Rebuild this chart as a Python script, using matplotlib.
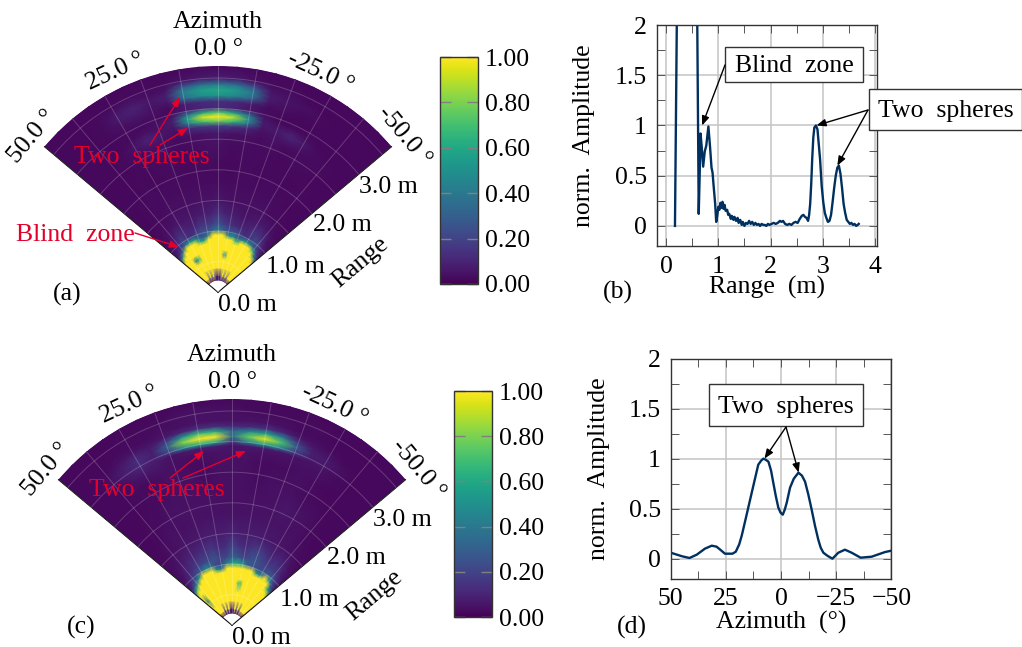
import numpy as np
import matplotlib
matplotlib.use('Agg')
import matplotlib.pyplot as plt
from matplotlib.patches import Rectangle

plt.rcParams['font.family'] = ['Liberation Serif', 'DejaVu Serif']
plt.rcParams['font.size'] = 18.5

W, H = 1022, 647
RED = '#e4002b'
NAVY = '#00305f'

# heat maps, percent of full scale, columns go left to right in the picture
azimuths = [50, 45, 40, 35, 30, 25, 20, 15, 10, 5, 0, -5, -10, -15, -20, -25, -30, -35, -40, -45, -50]

ranges_a = [0.20, 0.27, 0.40, 0.55, 0.62, 0.70, 0.76, 0.82, 0.88, 0.94, 1.02, 1.12, 1.30, 1.50, 1.80, 2.10,
            2.40, 2.60, 2.72, 2.80, 2.87, 2.94, 3.02, 3.12, 3.22, 3.31, 3.40, 3.50, 3.70]
heat_a = [
    [5, 5, 5, 5, 5, 5, 5, 5, 5, 5, 5, 5, 5, 5, 5, 5, 5, 5, 5, 5, 5],
    [300, 300, 300, 300, 20, 300, 20, 300, 20, 8, 8, 8, 20, 300, 20, 300, 20, 300, 300, 300, 300],
    [300, 300, 300, 300, 300, 300, 300, 300, 300, 300, 300, 300, 300, 300, 300, 300, 300, 300, 300, 300, 300],
    [300, 300, 300, 300, 300, 300, 300, 300, 300, 300, 300, 300, 300, 300, 300, 300, 300, 300, 300, 300, 300],
    [300, 300, 300, 40, 60, 300, 300, 300, 300, 300, 300, 300, 45, 300, 300, 300, 300, 300, 300, 300, 300],
    [300, 300, 300, 300, 300, 300, 300, 300, 300, 300, 300, 300, 300, 300, 300, 300, 300, 300, 300, 300, 300],
    [40, 300, 300, 300, 300, 300, 300, 300, 300, 300, 300, 300, 300, 300, 300, 300, 300, 300, 300, 300, 40],
    [10, 45, 300, 300, 300, 300, 300, 300, 300, 300, 300, 300, 300, 300, 300, 300, 300, 300, 300, 45, 10],
    [5, 14, 40, 300, 300, 300, 60, 55, 300, 300, 300, 300, 300, 300, 60, 300, 300, 300, 60, 20, 5],
    [4, 8, 16, 35, 50, 55, 30, 26, 40, 300, 300, 300, 45, 50, 30, 45, 55, 40, 22, 12, 4],
    [3, 6, 12, 20, 14, 12, 20, 24, 26, 32, 40, 32, 24, 26, 20, 12, 14, 22, 20, 9, 3],
    [3, 4, 7, 14, 12, 10, 10, 16, 16, 18, 26, 18, 14, 12, 10, 10, 15, 16, 12, 5, 3],
    [2, 3, 4, 5, 6, 6, 6, 7, 8, 9, 14, 9, 8, 6, 5, 6, 7, 7, 5, 3, 2],
    [2, 2, 3, 3, 4, 4, 4, 4, 5, 5, 6, 5, 4, 4, 4, 4, 4, 3, 3, 2, 2],
    [2, 2, 3, 3, 3, 3, 3, 3, 3, 3, 3, 3, 3, 3, 3, 3, 3, 3, 2, 2, 2],
    [2, 2, 2, 3, 2, 3, 3, 2, 3, 3, 3, 2, 3, 3, 2, 3, 2, 2, 3, 2, 2],
    [2, 2, 2, 2, 3, 3, 3, 3, 3, 4, 4, 3, 3, 3, 3, 2, 3, 3, 2, 2, 2],
    [2, 2, 2, 3, 3, 5, 4, 3, 4, 5, 6, 4, 4, 3, 4, 3, 3, 3, 3, 2, 2],
    [2, 2, 2, 3, 5, 9, 6, 4, 12, 16, 18, 15, 10, 4, 5, 7, 5, 3, 3, 2, 2],
    [2, 2, 2, 2, 4, 8, 5, 6, 42, 70, 78, 66, 38, 6, 6, 10, 6, 3, 2, 2, 2],
    [2, 2, 2, 2, 3, 4, 4, 8, 58, 95, 112, 90, 52, 7, 5, 7, 4, 2, 2, 2, 2],
    [2, 2, 2, 2, 3, 3, 4, 6, 38, 64, 74, 60, 32, 5, 3, 3, 3, 2, 2, 2, 2],
    [2, 2, 2, 2, 3, 3, 3, 3, 7, 10, 12, 9, 6, 3, 2, 2, 2, 2, 2, 2, 2],
    [2, 2, 2, 3, 4, 5, 4, 3, 8, 12, 14, 11, 7, 3, 3, 2, 2, 2, 2, 2, 2],
    [2, 2, 2, 3, 6, 8, 5, 6, 36, 48, 52, 46, 32, 6, 4, 3, 3, 2, 2, 2, 2],
    [2, 2, 2, 3, 7, 9, 6, 8, 44, 56, 60, 54, 40, 7, 5, 4, 3, 2, 2, 2, 2],
    [2, 2, 2, 3, 5, 6, 4, 5, 28, 38, 40, 36, 24, 5, 4, 3, 2, 2, 2, 2, 2],
    [2, 2, 2, 2, 2, 3, 3, 3, 5, 7, 8, 7, 4, 3, 3, 2, 2, 2, 2, 2, 2],
    [2, 2, 2, 2, 2, 2, 2, 2, 2, 2, 2, 2, 2, 2, 2, 2, 2, 2, 2, 2, 2],
]

ranges_c = [0.20, 0.27, 0.40, 0.55, 0.70, 0.76, 0.82, 0.88, 0.94, 1.02, 1.12, 1.30, 1.50, 1.80, 2.10, 2.40,
            2.70, 2.85, 2.94, 3.00, 3.09, 3.18, 3.26, 3.35, 3.50, 3.70]
heat_c = [
    [5, 5, 5, 5, 5, 5, 5, 5, 5, 5, 5, 5, 5, 5, 5, 5, 5, 5, 5, 5, 5],
    [300, 300, 300, 300, 300, 20, 300, 20, 300, 8, 8, 8, 300, 20, 300, 20, 300, 300, 300, 300, 300],
    [300, 300, 300, 300, 300, 300, 300, 300, 300, 300, 300, 300, 300, 300, 300, 300, 300, 300, 300, 300, 300],
    [300, 40, 300, 300, 300, 300, 300, 300, 300, 300, 300, 300, 300, 300, 300, 300, 300, 300, 300, 300, 300],
    [300, 300, 300, 300, 300, 300, 300, 300, 300, 300, 300, 300, 60, 300, 300, 300, 300, 300, 300, 300, 300],
    [60, 300, 300, 300, 300, 300, 300, 300, 300, 300, 300, 300, 300, 300, 300, 300, 300, 300, 300, 300, 60],
    [15, 60, 300, 300, 300, 300, 300, 300, 300, 300, 300, 300, 300, 300, 300, 300, 300, 300, 300, 60, 15],
    [6, 20, 50, 300, 300, 300, 300, 300, 300, 300, 300, 300, 300, 300, 300, 300, 300, 300, 300, 30, 6],
    [4, 12, 25, 50, 300, 300, 300, 50, 40, 300, 300, 300, 300, 300, 300, 50, 45, 300, 50, 20, 4],
    [3, 8, 14, 22, 30, 45, 40, 20, 22, 40, 55, 60, 50, 30, 26, 22, 24, 28, 26, 14, 3],
    [3, 5, 10, 14, 18, 20, 22, 26, 20, 20, 30, 26, 20, 24, 26, 22, 18, 18, 16, 8, 3],
    [2, 4, 6, 9, 10, 12, 14, 16, 12, 12, 20, 14, 12, 16, 18, 14, 10, 12, 9, 5, 2],
    [2, 3, 4, 5, 6, 6, 7, 8, 8, 8, 10, 8, 8, 8, 7, 6, 6, 5, 4, 3, 2],
    [2, 2, 3, 4, 4, 4, 5, 5, 5, 5, 5, 5, 5, 5, 5, 5, 4, 4, 3, 2, 2],
    [2, 2, 3, 3, 4, 5, 4, 4, 4, 4, 4, 4, 4, 4, 5, 6, 5, 4, 3, 2, 2],
    [2, 2, 2, 3, 3, 4, 4, 4, 3, 4, 4, 4, 3, 4, 4, 4, 3, 3, 2, 2, 2],
    [2, 2, 2, 3, 3, 4, 4, 3, 3, 4, 4, 4, 3, 3, 3, 4, 3, 2, 2, 2, 2],
    [2, 2, 2, 4, 6, 6, 4, 4, 4, 5, 5, 5, 4, 4, 4, 4, 4, 3, 2, 2, 2],
    [2, 2, 3, 6, 9, 7, 5, 7, 8, 8, 5, 7, 7, 6, 5, 5, 5, 3, 2, 2, 2],
    [2, 2, 4, 8, 11, 8, 18, 46, 60, 56, 14, 42, 54, 44, 16, 7, 6, 4, 2, 2, 2],
    [2, 2, 4, 8, 13, 8, 32, 82, 110, 104, 36, 76, 96, 72, 28, 8, 7, 4, 2, 2, 2],
    [2, 2, 3, 6, 10, 7, 18, 50, 68, 62, 30, 46, 58, 42, 14, 6, 5, 3, 2, 2, 2],
    [2, 2, 2, 4, 5, 5, 6, 10, 14, 13, 10, 11, 14, 10, 5, 4, 3, 2, 2, 2, 2],
    [2, 2, 2, 3, 3, 3, 4, 4, 5, 5, 5, 5, 5, 4, 3, 3, 2, 2, 2, 2, 2],
    [2, 2, 2, 2, 3, 3, 3, 4, 5, 4, 4, 3, 3, 3, 3, 3, 2, 2, 2, 2, 2],
    [2, 2, 2, 2, 2, 2, 2, 2, 2, 2, 2, 2, 2, 2, 2, 2, 2, 2, 2, 2, 2],
]

# range cut, panel (b)
cut_range = [0.17, 0.217, 0.40, 0.587, 0.625, 0.645, 0.66, 0.68, 0.71, 0.74, 0.77, 0.81, 0.84, 0.87, 0.89, 0.91,
             0.94, 0.96, 0.98, 1.00, 1.02, 1.04, 1.06, 1.08, 1.10, 1.12, 1.14, 1.17, 1.19, 1.21, 1.24, 1.26,
             1.29, 1.31, 1.34, 1.37, 1.39, 1.42, 1.45, 1.47, 1.50, 1.53, 1.56, 1.59, 1.62, 1.65, 1.68, 1.71,
             1.74, 1.77, 1.80, 1.83, 1.86, 1.89, 1.92, 1.95, 1.98, 2.02, 2.06, 2.10, 2.14, 2.18, 2.21, 2.24,
             2.28, 2.32, 2.36, 2.40, 2.44, 2.48, 2.52, 2.56, 2.60, 2.63, 2.66, 2.69, 2.72, 2.74, 2.76, 2.78,
             2.80, 2.82, 2.84, 2.87, 2.90, 2.92, 2.95, 2.98, 3.01, 3.04, 3.07, 3.10, 3.13, 3.16, 3.19, 3.22,
             3.25, 3.28, 3.31, 3.34, 3.37, 3.40, 3.43, 3.46, 3.49, 3.52, 3.55, 3.58, 3.61, 3.64, 3.67, 3.69]
cut_amp = [0.00, 2.70, 2.90, 2.70, 0.12, 0.55, 0.92, 0.80, 0.59, 0.74, 0.80, 0.99, 0.80, 0.58, 0.53, 0.40,
           0.22, 0.04, 0.10, 0.19, 0.16, 0.23, 0.18, 0.24, 0.17, 0.21, 0.15, 0.16, 0.11, 0.12, 0.07, 0.10,
           0.06, 0.09, 0.05, 0.08, 0.03, 0.06, 0.01, 0.04, 0.00, 0.03, 0.02, 0.05, 0.02, 0.04, 0.01, 0.03,
           0.01, 0.02, 0.00, 0.02, 0.01, 0.01, 0.00, 0.02, 0.01, 0.02, 0.03, 0.02, 0.03, 0.05, 0.04, 0.05,
           0.02, 0.01, 0.02, 0.01, 0.03, 0.04, 0.03, 0.07, 0.10, 0.11, 0.09, 0.08, 0.05, 0.11, 0.22, 0.42,
           0.68, 0.88, 0.98, 1.00, 0.96, 0.84, 0.66, 0.40, 0.24, 0.13, 0.08, 0.04, 0.05, 0.11, 0.24, 0.38,
           0.50, 0.58, 0.60, 0.52, 0.38, 0.22, 0.13, 0.06, 0.04, 0.02, 0.03, 0.01, 0.02, 0.00, 0.01, 0.02]

# azimuth cut, panel (d)
cut_az = [50, 45, 41.5, 38.2, 34.5, 31.4, 29.2, 27, 25.4, 22, 20.5, 19, 17.8, 16, 14, 12, 10.3, 9, 8, 7, 5.7, 4.5,
          3.5, 2.3, 1.2, 0.2, -0.8, -1.7, -2.6, -4.1, -5.8, -7.9, -9.5, -10.9, -12.4, -13.9, -15.4, -16.9, -18,
          -19.2, -21, -23.3, -26, -29, -32, -36.1, -41.1, -47.1, -50]
cut_az_amp = [0.06, 0.025, 0.007, 0.04, 0.10, 0.13, 0.12, 0.08, 0.05, 0.05, 0.07, 0.14, 0.23, 0.40, 0.59, 0.78,
              0.94, 0.98, 1.00, 0.99, 0.97, 0.88, 0.76, 0.62, 0.51, 0.46, 0.44, 0.49, 0.56, 0.71, 0.80, 0.86,
              0.83, 0.77, 0.64, 0.49, 0.33, 0.19, 0.11, 0.06, 0.03, 0.00, 0.06, 0.09, 0.06, 0.01, 0.02, 0.066, 0.08]

bar_ticks = [0, 0.2, 0.4, 0.6, 0.8, 1.0]
az_labels = [50, 25, 0, -25, -50]
range_labels = ['0.0 m', '1.0 m', '2.0 m', '3.0 m']


def px_axes(left, top, right, bottom, **kw):
    return fig.add_axes([left / W, 1 - bottom / H, (right - left) / W, (bottom - top) / H], **kw)


def put(x, y, text, **kw):
    # va=center counts the descender, so move down a little to centre the glyphs
    return over.text(x, y + 2, text, ha='center', va='center', **kw)


def arrow(src, dst, color, coords=None):
    over.annotate('', xy=dst, xytext=src, xycoords=coords if coords is not None else over.transData,
                  textcoords=over.transData, annotation_clip=False,
                  arrowprops=dict(arrowstyle='-|>,head_width=0.2,head_length=0.5', color=color, lw=1.0,
                                  mutation_scale=11, shrinkA=0, shrinkB=0))


def note_box(left, top, right, bottom, text, tx):
    over.add_patch(Rectangle((left, top), right - left, bottom - top, fc='white', ec='#333333', lw=1,
                             clip_on=False, zorder=3))
    put(tx, (top + bottom) / 2, text, zorder=4)


def draw_sector(apex, heat, ranges, bar_box):
    # polar axes fit the wedge into a square, so the box is as tall as the wedge is wide
    mid_y = apex[1] - 113
    ax = px_axes(apex[0] - 173.5, mid_y - 173.5, apex[0] + 173.5, mid_y + 173.5, projection='polar')
    ax.set_theta_zero_location('N')
    ax.set_thetamin(-50)
    ax.set_thetamax(50)
    ax.set_rlim(0, 3.7)
    ax.set_rorigin(0)
    mesh = ax.pcolormesh(np.radians(azimuths), ranges, np.array(heat) / 100, shading='gouraud',
                         cmap='viridis', vmin=0, vmax=1)
    ax.set_xticks(np.radians(np.arange(-50, 51, 10)))
    ax.set_yticks(np.arange(0.5, 3.6, 0.5))
    ax.set_xticklabels([])
    ax.set_yticklabels([])
    ax.tick_params(length=0)
    ax.grid(True, color='white', alpha=0.2, lw=0.7)
    ax.set_axisbelow(False)
    for sp in ax.spines.values():
        sp.set_visible(False)
    for az in az_labels:
        ax.text(np.radians(az), 3.97, f'{az:.1f} °', rotation=az, rotation_mode='anchor',
                ha='center', va='center', clip_on=False)

    x0, y0 = apex
    put(x0, y0 - 272, 'Azimuth')
    put(x0 + 29, y0 + 11, range_labels[0])
    put(x0 + 77, y0 - 27, range_labels[1])
    put(x0 + 124, y0 - 69, range_labels[2])
    put(x0 + 170, y0 - 107, range_labels[3])
    over.text(x0 + 142, y0 - 30, 'Range', rotation=40, ha='center', va='center')

    cax = px_axes(*bar_box)
    cb = fig.colorbar(mesh, cax=cax, ticks=bar_ticks, format='%.2f')
    cb.ax.tick_params(which='major', left=True, right=True, direction='in', length=8, width=1,
                      color='#808080', labelright=True, labelleft=False, pad=5)
    cb.ax.minorticks_off()
    cb.outline.set_edgecolor('#333333')
    cb.outline.set_linewidth(1)


def draw_cut(box, xs, ys, xlim, xticks, xminor, xlabels, xname, xname_y, yname_x):
    ax = px_axes(*box)
    ax.plot(xs, ys, color=NAVY, lw=1.7)
    ax.set_xlim(*xlim)
    ax.set_ylim(-0.2, 2)
    ax.set_xticks(xticks)
    ax.set_xticklabels(xlabels)
    ax.set_xticks(xminor, minor=True)
    ax.set_yticks([0, 0.5, 1, 1.5, 2])
    ax.set_yticklabels(['0', '0.5', '1', '1.5', '2'])
    ax.set_yticks([0.25, 0.75, 1.25, 1.75], minor=True)
    ax.grid(True, which='major', color='#c4c4c4', lw=1.1)
    ax.set_axisbelow(True)
    ax.tick_params(which='major', direction='in', top=True, right=True, length=6, width=0.7,
                   color='#555555', pad=7)
    ax.tick_params(which='minor', direction='in', top=True, right=True, length=6, width=0.7, color='#555555')
    ax.set_xlabel(xname, va='center')
    ax.set_ylabel('norm.  Amplitude', va='center')
    ax.xaxis.set_label_coords(0.5, xname_y)
    ax.yaxis.set_label_coords(yname_x, 0.5)
    for sp in ax.spines.values():
        sp.set_color('#333333')
        sp.set_linewidth(1)
    return ax


fig = plt.figure(figsize=(W / 100, H / 100), dpi=100)
over = fig.add_axes([0, 0, 1, 1], zorder=10)
over.set_xlim(0, W)
over.set_ylim(H, 0)
over.axis('off')

draw_sector((218, 292), heat_a, ranges_a, (440, 57, 478, 284))
draw_sector((232, 625), heat_c, ranges_c, (454, 391, 492, 617))

ax_b = draw_cut((656.7, 25, 877, 246), cut_range, cut_amp, (-0.18, 4.04), [0, 1, 2, 3, 4],
                [0.5, 1.5, 2.5, 3.5], ['0', '1', '2', '3', '4'], 'Range  (m)', -0.186, -0.33)
ax_d = draw_cut((670.7, 358.6, 891.3, 578.7), cut_az, cut_az_amp, (50, -50), [50, 25, 0, -25, -50],
                [37.5, 12.5, -12.5, -37.5], ['50', '25', '0', '\u221225', '\u221250'], 'Azimuth  (°)', -0.2, -0.325)

# panel labels
put(67, 292, '(a)')
put(618, 290, '(b)')
put(81, 625, '(c)')
put(632, 625, '(d)')

# red notes on the sectors
put(142, 155, 'Two  spheres', color=RED)
put(75, 233, 'Blind  zone', color=RED)
put(157, 488, 'Two  spheres', color=RED)
arrow((150, 145), (180, 97), RED)
arrow((160, 145), (188, 128), RED)
arrow((135, 233), (179, 247), RED)
arrow((170, 478), (204, 451), RED)
arrow((183, 478), (246, 451), RED)

# boxed notes on the cuts
note_box(725, 47, 863, 82, 'Blind  zone', 794)
note_box(868.7, 89, 1022, 130, 'Two  spheres', 945.5)
note_box(708.7, 384, 863.3, 426, 'Two  spheres', 786)
arrow((725, 65), (0.69, 1.0), 'black', ax_b.transData)
arrow((868, 110), (2.88, 1.0), 'black', ax_b.transData)
arrow((868, 110), (3.28, 0.6), 'black', ax_b.transData)
arrow((786, 427), (7.5, 1.0), 'black', ax_d.transData)
arrow((786, 427), (-8, 0.86), 'black', ax_d.transData)

fig.savefig('out.png', dpi=100)
